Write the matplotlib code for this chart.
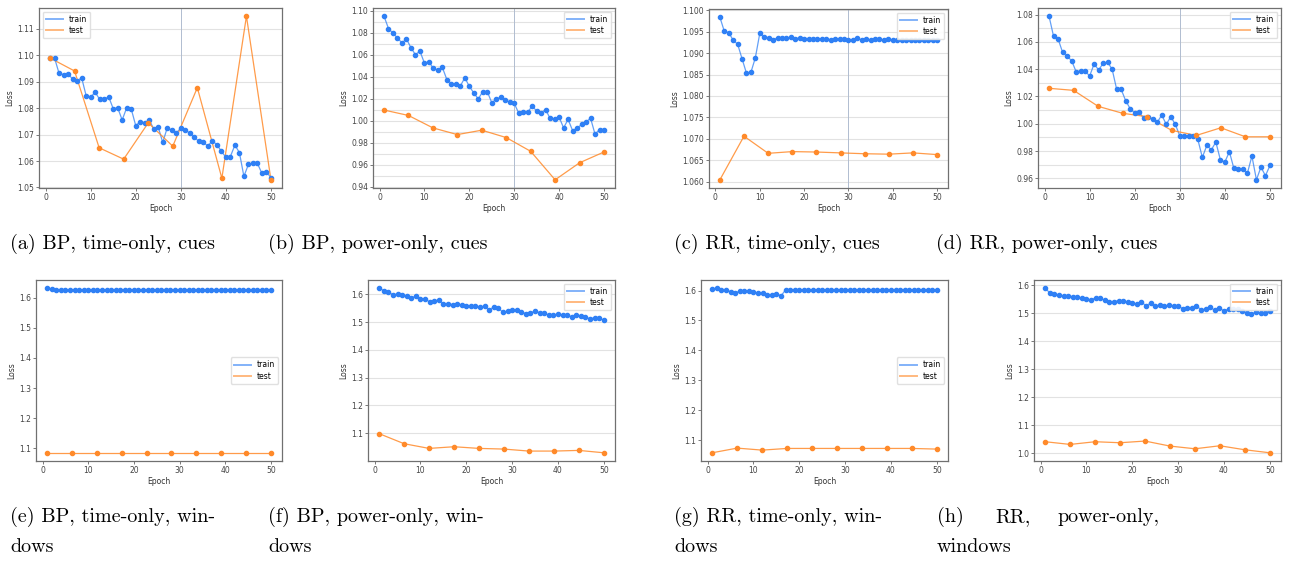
import numpy as np
import matplotlib.pyplot as plt
from matplotlib.ticker import AutoMinorLocator

W, H = 1303, 563

epochs = list(range(1, 51))
test_epochs = [1, 6.44, 11.89, 17.33, 22.78, 28.22, 33.67, 39.11, 44.56, 50]

#  (a) BP, time-only, cues
train_a = [1.0989, 1.0989, 1.0931, 1.0926, 1.0930, 1.0909, 1.0901, 1.0915, 1.0847, 1.0841,
           1.0860, 1.0833, 1.0833, 1.0843, 1.0798, 1.0801, 1.0755, 1.0801, 1.0797, 1.0734,
           1.0748, 1.0745, 1.0755, 1.0721, 1.0728, 1.0670, 1.0726, 1.0716, 1.0706, 1.0724,
           1.0716, 1.0706, 1.0689, 1.0675, 1.0670, 1.0657, 1.0676, 1.0662, 1.0637, 1.0614,
           1.0617, 1.0660, 1.0632, 1.0542, 1.0587, 1.0591, 1.0591, 1.0553, 1.0560, 1.0536]
test_a = [1.0989, 1.0940, 1.0650, 1.0607, 1.0744, 1.0656, 1.0877, 1.0535, 1.1147, 1.0529]

#  (b) BP, power-only, cues
train_b = [1.0951, 1.0839, 1.0796, 1.0753, 1.0708, 1.0744, 1.0665, 1.0601, 1.0634, 1.0525,
           1.0537, 1.0476, 1.0461, 1.0485, 1.0375, 1.0339, 1.0333, 1.0317, 1.0391, 1.0314,
           1.0253, 1.0199, 1.0266, 1.0266, 1.0165, 1.0196, 1.0217, 1.0189, 1.0171, 1.0159,
           1.0071, 1.0077, 1.0077, 1.0135, 1.0089, 1.0074, 1.0101, 1.0022, 1.0013, 1.0034,
           0.9936, 1.0013, 0.9912, 0.9933, 0.9967, 0.9988, 1.0025, 0.9879, 0.9921, 0.9921]
test_b = [1.0098, 1.0049, 0.9936, 0.9875, 0.9915, 0.9848, 0.9723, 0.9464, 0.9619, 0.9717]

#  (c) RR, time-only, cues
train_c = [1.0984, 1.0951, 1.0948, 1.0930, 1.0921, 1.0887, 1.0853, 1.0855, 1.0889, 1.0946,
           1.0938, 1.0936, 1.0931, 1.0936, 1.0936, 1.0935, 1.0937, 1.0933, 1.0936, 1.0934,
           1.0934, 1.0932, 1.0933, 1.0933, 1.0934, 1.0931, 1.0933, 1.0933, 1.0934, 1.0931,
           1.0931, 1.0936, 1.0930, 1.0933, 1.0931, 1.0932, 1.0932, 1.0931, 1.0932, 1.0931,
           1.0930, 1.0931, 1.0931, 1.0930, 1.0931, 1.0931, 1.0931, 1.0931, 1.0931, 1.0930]
test_c = [1.0604, 1.0706, 1.0666, 1.0670, 1.0669, 1.0667, 1.0665, 1.0664, 1.0667, 1.0663]

#  (d) RR, power-only, cues
train_d = [1.0788, 1.0641, 1.0622, 1.0524, 1.0494, 1.0463, 1.0382, 1.0387, 1.0387, 1.0350,
           1.0438, 1.0394, 1.0443, 1.0450, 1.0399, 1.0252, 1.0252, 1.0169, 1.0111, 1.0079,
           1.0084, 1.0042, 1.0052, 1.0037, 1.0011, 1.0064, 0.9996, 1.0052, 0.9996, 0.9913,
           0.9913, 0.9913, 0.9913, 0.9886, 0.9754, 0.9842, 0.9810, 0.9866, 0.9737, 0.9720,
           0.9796, 0.9673, 0.9668, 0.9668, 0.9639, 0.9764, 0.9590, 0.9683, 0.9620, 0.9695]
test_d = [1.0260, 1.0245, 1.0128, 1.0077, 1.0052, 0.9952, 0.9915, 0.9971, 0.9905, 0.9905]

#  (e) BP, time-only, windows
train_e = [1.632, 1.630] + [1.6267] * 48
test_e = [1.0845] * 10

#  (f) BP, power-only, windows
train_f = [1.6214, 1.6130, 1.6070, 1.5986, 1.5998, 1.5962, 1.5925, 1.5877, 1.5925, 1.5829,
           1.5829, 1.5721, 1.5769, 1.5781, 1.5637, 1.5661, 1.5625, 1.5661, 1.5601, 1.5577,
           1.5577, 1.5589, 1.5529, 1.5577, 1.5421, 1.5553, 1.5493, 1.5349, 1.5385, 1.5433,
           1.5433, 1.5373, 1.5300, 1.5337, 1.5385, 1.5337, 1.5312, 1.5252, 1.5240, 1.5288,
           1.5252, 1.5240, 1.5192, 1.5240, 1.5216, 1.5180, 1.5108, 1.5156, 1.5144, 1.5060]
test_f = [1.0986, 1.0625, 1.0457, 1.0517, 1.0457, 1.0433, 1.0361, 1.0361, 1.0385, 1.0300]

#  (g) RR, time-only, windows
train_g = [1.6056, 1.6078, 1.6033, 1.6011, 1.5967, 1.5911, 1.5989, 1.5989, 1.5978, 1.5944,
           1.5922, 1.5922, 1.5844, 1.5844, 1.5900, 1.5821] + [1.6022] * 34
test_g = [1.0576, 1.0732, 1.0665, 1.0721, 1.0721, 1.0721, 1.0721, 1.0721, 1.0721, 1.0699]

#  (h) RR, power-only, windows
train_h = [1.5895, 1.5728, 1.5704, 1.5644, 1.5621, 1.5609, 1.5597, 1.5573, 1.5537, 1.5513,
           1.5477, 1.5561, 1.5537, 1.5465, 1.5418, 1.5418, 1.5453, 1.5430, 1.5394, 1.5358,
           1.5322, 1.5394, 1.5274, 1.5358, 1.5251, 1.5298, 1.5263, 1.5286, 1.5251, 1.5263,
           1.5167, 1.5203, 1.5179, 1.5263, 1.5131, 1.5143, 1.5215, 1.5107, 1.5191, 1.5084,
           1.5155, 1.5155, 1.5143, 1.5072, 1.5024, 1.4988, 1.5036, 1.5024, 1.5024, 1.5095]
test_h = [1.0418, 1.0322, 1.0418, 1.0382, 1.0442, 1.0263, 1.0167, 1.0274, 1.0131, 1.0024]

trains = [train_a, train_b, train_c, train_d, train_e, train_f, train_g, train_h]
tests = [test_a, test_b, test_c, test_d, test_e, test_f, test_g, test_h]

# axes boxes in pixels: left, right, top, bottom
boxes = [(39, 282, 8, 188), (373, 615, 8, 188), (709, 948, 9, 188), (1038, 1281, 8, 188),
         (36, 282, 280, 461), (368, 615, 280, 461), (701, 948, 280, 461), (1034, 1281, 280, 461)]
legend_loc = ['upper left', 'upper right', 'upper right', 'upper right',
              'center right', 'upper right', 'center right', 'upper right']
vline = [True, True, True, True, False, False, False, False]
grid = [True, True, True, True, False, True, False, True]
minor_grid = [False, True, False, True, False, False, False, False]

blue = '#2f80f5'
orange = '#ff8a2a'

fig = plt.figure(figsize=(W / 100, H / 100), dpi=100)

for i in range(8):
    l, r, t, b = boxes[i]
    ax = fig.add_axes([l / W, 1 - b / H, (r - l) / W, (b - t) / H])
    ax.plot(epochs, trains[i], color=blue, lw=0.9, alpha=0.75, label='train')
    ax.scatter(epochs, trains[i], color=blue, s=9, zorder=3)
    ax.plot(test_epochs, tests[i], color=orange, lw=0.9, alpha=0.85, label='test')
    ax.scatter(test_epochs, tests[i], color=orange, s=9, zorder=3)
    if vline[i]:
        ax.axvline(30, color='#b0bcd0', lw=0.7, zorder=1)
    if grid[i]:
        ax.grid(axis='y', color='#e2e2e2', lw=0.8, zorder=0)
    if minor_grid[i]:
        ax.yaxis.set_minor_locator(AutoMinorLocator(2))
        ax.grid(axis='y', which='minor', color='#e2e2e2', lw=0.8, zorder=0)
        ax.tick_params(axis='y', which='minor', length=0)
    ax.set_axisbelow(True)
    ax.set_xticks([0, 10, 20, 30, 40, 50])
    ax.set_xlabel('Epoch', fontsize=5.5, labelpad=1.5, color='#333333')
    ax.set_ylabel('Loss', fontsize=5.5, labelpad=2, color='#333333')
    ax.tick_params(labelsize=5.5, length=2, width=0.5, pad=1.5, colors='#444444')
    for s in ax.spines.values():
        s.set_color('#707070')
        s.set_linewidth(0.9)
    leg = ax.legend(loc=legend_loc[i], fontsize=5.5, handlelength=2.2, borderpad=0.4,
                    labelspacing=0.3, framealpha=0.9, edgecolor='#dddddd')
    for h in leg.get_lines():
        h.set_linewidth(1.4)
        h.set_alpha(0.6)

# LaTeX style sub-captions
cap = dict(fontsize=14.5, family='cmr10', va='center', ha='left', color='black')
fig.text(10 / W, 1 - 244 / H, '(a) BP, time-only, cues', **cap)
fig.text(268 / W, 1 - 244 / H, '(b) BP, power-only, cues', **cap)
fig.text(674 / W, 1 - 244 / H, '(c) RR, time-only, cues', **cap)
fig.text(936 / W, 1 - 244 / H, '(d) RR, power-only, cues', **cap)

fig.text(10 / W, 1 - 517 / H, '(e) BP, time-only, win-', **cap)
fig.text(10 / W, 1 - 547 / H, 'dows', **cap)
fig.text(268 / W, 1 - 517 / H, '(f) BP, power-only, win-', **cap)
fig.text(268 / W, 1 - 547 / H, 'dows', **cap)
fig.text(674 / W, 1 - 517 / H, '(g) RR, time-only, win-', **cap)
fig.text(674 / W, 1 - 547 / H, 'dows', **cap)
fig.text(937 / W, 1 - 517 / H, '(h)', **cap)
fig.text(1013 / W, 1 - 517 / H, 'RR,', **{**cap, 'ha': 'center'})
fig.text(1160 / W, 1 - 517 / H, 'power-only,', **{**cap, 'ha': 'right'})
fig.text(937 / W, 1 - 547 / H, 'windows', **cap)

plt.savefig('out.png', dpi=100)
plt.close()
